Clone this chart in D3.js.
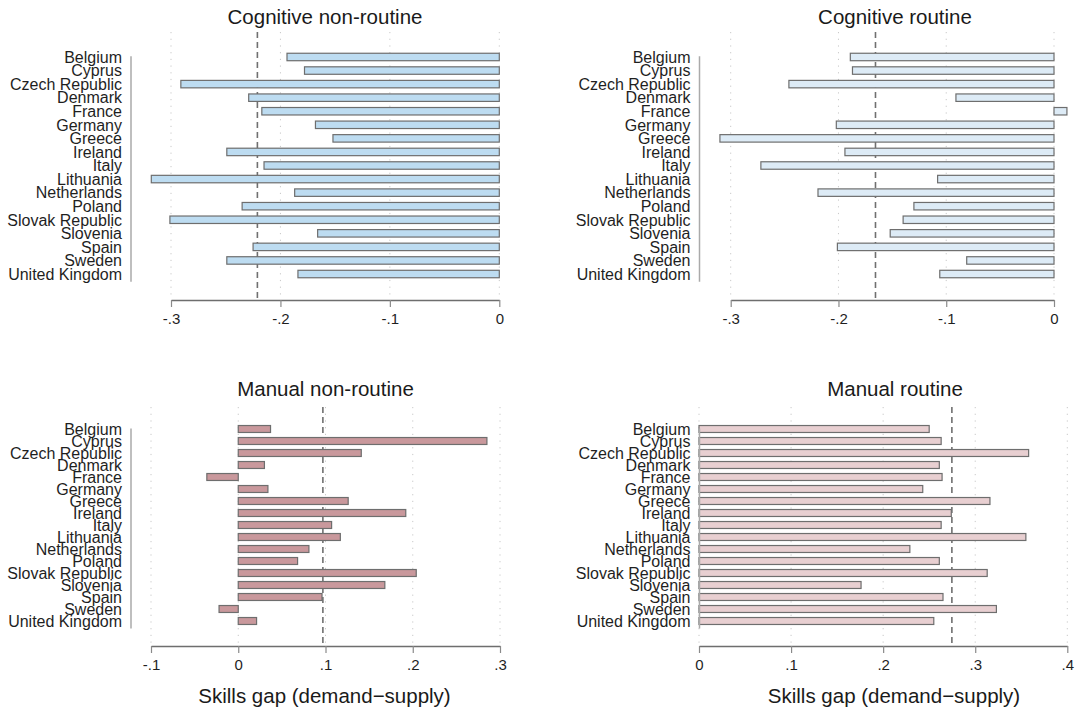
<!DOCTYPE html>
<html>
<head>
<meta charset="utf-8">
<script src="https://cdn.jsdelivr.net/npm/d3@7"></script>
<style>
  html, body { margin: 0; padding: 0; background: #fff; }
  svg { display: block; font-family: "Liberation Sans", Arial, sans-serif; }
</style>
</head>
<body>
<svg id="chart" width="1078" height="711"></svg>
<script>
// Countries, listed top to bottom in every panel
const countries = ["Belgium", "Cyprus", "Czech Republic", "Denmark", "France", "Germany",
  "Greece", "Ireland", "Italy", "Lithuania", "Netherlands", "Poland", "Slovak Republic",
  "Slovenia", "Spain", "Sweden", "United Kingdom"];

// Skills gap (demand - supply) by task group
const cognitiveNonRoutine = [-0.194, -0.178, -0.291, -0.229, -0.217, -0.168, -0.152, -0.249,
  -0.215, -0.318, -0.187, -0.235, -0.301, -0.166, -0.225, -0.249, -0.184];
const cognitiveRoutine = [-0.189, -0.187, -0.246, -0.091, 0.012, -0.202, -0.310, -0.194,
  -0.272, -0.108, -0.219, -0.130, -0.140, -0.152, -0.201, -0.081, -0.106];
const manualNonRoutine = [0.037, 0.285, 0.141, 0.030, -0.036, 0.034, 0.126, 0.192,
  0.107, 0.117, 0.081, 0.068, 0.204, 0.168, 0.096, -0.022, 0.021];
const manualRoutine = [0.250, 0.263, 0.358, 0.261, 0.264, 0.243, 0.316, 0.274,
  0.263, 0.355, 0.229, 0.261, 0.313, 0.176, 0.265, 0.323, 0.255];

// Axis tick labels
const ticksCognitive = [-0.3, -0.2, -0.1, 0];
const ticksManualNonRoutine = [-0.1, 0, 0.1, 0.2, 0.3];
const ticksManualRoutine = [0, 0.1, 0.2, 0.3, 0.4];

const titles = ["Cognitive non-routine", "Cognitive routine", "Manual non-routine", "Manual routine"];
const xTitle = "Skills gap (demand\u2212supply)";

// Panel geometry and styling
const panels = [
  { title: titles[0], values: cognitiveNonRoutine, ticks: ticksCognitive,
    xr: [171, 499.3], yAxisX: 131, cx: 325, titleY: 24, gridTop: 32,
    band: [50.2, 280.8], axisY: 300, fill: "#bddcf1", pad: 0.45, showXTitle: false },
  { title: titles[1], values: cognitiveRoutine, ticks: ticksCognitive,
    xr: [730.7, 1054], yAxisX: 699.5, cx: 895, titleY: 24, gridTop: 32,
    band: [50.2, 280.8], axisY: 300, fill: "#ddebf6", pad: 0.45, showXTitle: false },
  { title: titles[2], values: manualNonRoutine, ticks: ticksManualNonRoutine,
    xr: [151, 500], yAxisX: 131, cx: 325.5, titleY: 396, gridTop: 407,
    band: [423, 627], axisY: 646, fill: "#c9989c", pad: 0.42, showXTitle: true },
  { title: titles[3], values: manualRoutine, ticks: ticksManualRoutine,
    xr: [699, 1067.3], yAxisX: 699.5, cx: 895, titleY: 396, gridTop: 407,
    band: [423, 627], axisY: 646, fill: "#e8cfd1", pad: 0.42, showXTitle: true }
];

const fmt = v => {
  const r = +v.toFixed(1);
  if (r === 0) return "0";
  return (r < 0 ? "-" : "") + String(Math.abs(r)).replace(/^0/, "");
};

const svg = d3.select("#chart");

panels.forEach(p => {
  const g = svg.append("g");
  const x = d3.scaleLinear().domain(d3.extent(p.ticks)).range(p.xr);
  const y = d3.scaleBand().domain(countries).range(p.band)
    .paddingInner(p.pad).paddingOuter(p.pad / 2);

  // dotted grid lines at each tick
  g.selectAll("line.grid").data(p.ticks).join("line")
    .attr("class", "grid")
    .attr("x1", d => x(d)).attr("x2", d => x(d))
    .attr("y1", p.gridTop).attr("y2", p.axisY)
    .attr("stroke", "#c8c8c8").attr("stroke-width", 1)
    .attr("stroke-dasharray", "1.2,5.5");

  // dashed line at the cross-country mean
  const avg = d3.mean(p.values);
  g.append("line")
    .attr("x1", x(avg)).attr("x2", x(avg))
    .attr("y1", p.gridTop).attr("y2", p.axisY)
    .attr("stroke", "#707070").attr("stroke-width", 1.6)
    .attr("stroke-dasharray", "6,4");

  // bars
  g.selectAll("rect.bar").data(countries).join("rect")
    .attr("class", "bar")
    .attr("x", (c, i) => Math.min(x(0), x(p.values[i])))
    .attr("width", (c, i) => Math.abs(x(p.values[i]) - x(0)))
    .attr("y", c => y(c))
    .attr("height", y.bandwidth())
    .attr("fill", p.fill)
    .attr("stroke", "#6e6e6e").attr("stroke-width", 1.2);

  // category axis line
  g.append("line")
    .attr("x1", p.yAxisX).attr("x2", p.yAxisX)
    .attr("y1", y(countries[0]) + 3)
    .attr("y2", y(countries[countries.length - 1]) + y.bandwidth() + 4)
    .attr("stroke", "#aaaaaa").attr("stroke-width", 1.5);

  // category labels
  g.selectAll("text.cat").data(countries).join("text")
    .attr("class", "cat")
    .attr("x", p.yAxisX - 9)
    .attr("y", c => y(c) + y.bandwidth() / 2)
    .attr("dy", "0.36em")
    .attr("text-anchor", "end")
    .attr("font-size", 16)
    .attr("fill", "#1f1f1f")
    .text(c => c);

  // value axis
  const ax = g.append("g")
    .attr("transform", `translate(0,${p.axisY})`)
    .call(d3.axisBottom(x).tickValues(p.ticks).tickFormat(fmt)
      .tickSize(7).tickSizeOuter(0).tickPadding(6));
  ax.select(".domain").attr("stroke", "#6e6e6e").attr("stroke-width", 1.6);
  ax.selectAll(".tick line").attr("stroke", "#8a8a8a").attr("stroke-width", 1.2);
  ax.selectAll(".tick text")
    .attr("font-family", "'Liberation Sans', Arial, sans-serif")
    .attr("font-size", 15).attr("fill", "#1f1f1f");

  // panel title
  g.append("text")
    .attr("x", p.cx).attr("y", p.titleY)
    .attr("text-anchor", "middle")
    .attr("font-size", 20.5).attr("fill", "#1a1a1a")
    .text(p.title);

  if (p.showXTitle) {
    g.append("text")
      .attr("x", p.cx - 1).attr("y", p.axisY + 57)
      .attr("text-anchor", "middle")
      .attr("font-size", 20.5).attr("fill", "#1a1a1a")
      .text(xTitle);
  }
});
</script>
</body>
</html>
